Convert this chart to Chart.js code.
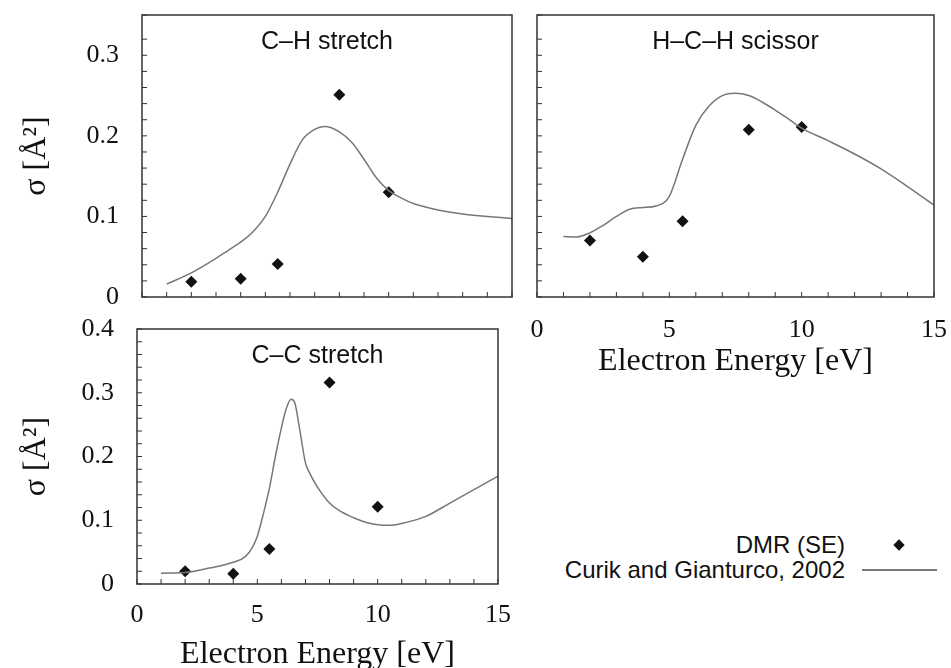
<!DOCTYPE html>
<html>
<head>
<meta charset="utf-8">
<script src="https://cdn.jsdelivr.net/npm/chart.js@4.4.1/dist/chart.umd.min.js"></script>
<style>
html, body { margin: 0; padding: 0; background: #fff; overflow: hidden; }
#wrap { position: relative; width: 951px; height: 668px; overflow: hidden; }
canvas { position: absolute; }
.leg { position: absolute; font: 24px "Liberation Sans", Arial, sans-serif; color: #111; white-space: nowrap; line-height: 24px; }
#legDiamond { position: absolute; width: 8px; height: 8px; background: #111; transform: rotate(45deg); }
#legLine { position: absolute; height: 1.5px; background: #777; }
</style>
</head>
<body>
<div id="wrap">
  <canvas id="chStretch" width="530" height="320" style="left:0;top:0;width:530px;height:320px"></canvas>
  <canvas id="hchScissor" width="431" height="378" style="left:520px;top:0;width:431px;height:378px"></canvas>
  <canvas id="ccStretch" width="530" height="371" style="left:0;top:300px;width:530px;height:371px"></canvas>

  <div class="leg" style="right:106px;top:533px">DMR (SE)</div>
  <div class="leg" style="right:106px;top:558px">Curik and Gianturco, 2002</div>
  <div id="legDiamond" style="left:895px;top:541px"></div>
  <div id="legLine" style="left:862px;top:569px;width:75px"></div>
</div>

<script>
// DMR (SE) points, same energies in every panel
const dmrEnergy = [2, 4, 5.5, 8, 10];
const chStretchDMR = [0.019, 0.0225, 0.041, 0.251, 0.130];
const hchScissorDMR = [0.070, 0.050, 0.094, 0.2075, 0.211];
const ccStretchDMR = [0.020, 0.016, 0.055, 0.316, 0.121];

// Curik and Gianturco, 2002 curves
const chStretchE = [1, 2, 3, 3.5, 4, 4.5, 5, 5.5, 6, 6.5, 7, 7.4, 8, 8.5, 9, 9.5, 10, 10.5, 11, 12, 13, 14, 15];
const chStretchCurve = [0.016, 0.030, 0.048, 0.058, 0.068, 0.081, 0.100, 0.130, 0.165, 0.195, 0.208, 0.2115, 0.205, 0.192, 0.171, 0.148, 0.132, 0.123, 0.116, 0.108, 0.103, 0.100, 0.0975];

const hchScissorE = [1, 1.5, 2, 2.5, 3, 3.5, 4, 4.5, 5, 5.5, 6, 6.5, 7, 7.5, 8, 8.5, 9, 9.5, 10, 11, 12, 13, 14, 15];
const hchScissorCurve = [0.075, 0.0746, 0.0796, 0.089, 0.100, 0.109, 0.111, 0.113, 0.125, 0.171, 0.213, 0.237, 0.250, 0.253, 0.250, 0.242, 0.232, 0.221, 0.2096, 0.194, 0.1775, 0.159, 0.137, 0.114];

const ccStretchE = [1, 2, 3, 4, 4.5, 4.8, 5, 5.25, 5.5, 5.75, 6, 6.2, 6.4, 6.55, 6.75, 7, 7.2, 7.5, 8, 8.5, 9, 9.5, 10, 10.5, 11, 12, 13, 14, 15];
const ccStretchCurve = [0.017, 0.018, 0.025, 0.034, 0.043, 0.058, 0.075, 0.110, 0.150, 0.200, 0.245, 0.275, 0.290, 0.285, 0.245, 0.190, 0.172, 0.152, 0.127, 0.113, 0.104, 0.097, 0.093, 0.092, 0.095, 0.106, 0.127, 0.148, 0.169];

// axis ranges and labels
const energyMin = 0, energyMax = 15;
const xLabelStep = 5;
const yLabelStep = 0.1;
const xTitle = 'Electron Energy [eV]';
const yTitle = 'σ [Å²]';

const serif = '"Liberation Serif", "Times New Roman", serif';
const sans = '"Liberation Sans", Arial, sans-serif';

function toPoints(xs, ys) {
    return xs.map((x, i) => ({ x: x, y: ys[i] }));
}

// frame, inward tick marks and the title written inside the box
const framePlugin = {
    id: 'frame',
    afterDraw(chart) {
        const { ctx, chartArea: a, scales: { x, y } } = chart;
        const opts = chart.options.plugins.frame;
        ctx.save();
        ctx.strokeStyle = '#333';
        ctx.lineWidth = 1.5;
        ctx.strokeRect(a.left, a.top, a.right - a.left, a.bottom - a.top);
        ctx.lineWidth = 1;
        ctx.beginPath();
        x.ticks.forEach(t => {
            const px = x.getPixelForValue(t.value);
            ctx.moveTo(px, a.bottom);
            ctx.lineTo(px, a.bottom - 5);
        });
        y.ticks.forEach(t => {
            const py = y.getPixelForValue(t.value);
            ctx.moveTo(a.left, py);
            ctx.lineTo(a.left + 5, py);
        });
        ctx.stroke();
        ctx.fillStyle = '#111';
        ctx.font = '25px ' + sans;
        ctx.textAlign = 'center';
        ctx.textBaseline = 'middle';
        ctx.fillText(opts.text, (a.left + a.right) / 2, a.top + 27);
        ctx.restore();
    }
};

function isStep(v, step) {
    const r = v / step;
    return Math.abs(r - Math.round(r)) < 1e-6;
}

function makePanel(id, cfg) {
    const ctx = document.getElementById(id).getContext('2d');
    return new Chart(ctx, {
        type: 'scatter',
        data: {
            datasets: [{
                label: 'Curik and Gianturco, 2002',
                data: toPoints(cfg.curveE, cfg.curve),
                showLine: true,
                borderColor: '#777',
                borderWidth: 1.5,
                pointRadius: 0,
                cubicInterpolationMode: 'monotone'
            }, {
                label: 'DMR (SE)',
                data: toPoints(dmrEnergy, cfg.dmr),
                showLine: false,
                pointStyle: 'rectRot',
                pointRadius: 6,
                backgroundColor: '#111',
                borderColor: '#111',
                borderWidth: 0
            }]
        },
        options: {
            responsive: false,
            animation: false,
            layout: { padding: cfg.padding },
            plugins: {
                legend: { display: false },
                tooltip: { enabled: false },
                frame: { text: cfg.title }
            },
            scales: {
                x: {
                    type: 'linear',
                    min: energyMin,
                    max: energyMax,
                    grid: { display: false },
                    border: { display: false },
                    ticks: {
                        stepSize: 1,
                        autoSkip: false,
                        maxRotation: 0,
                        padding: cfg.xTickPad,
                        color: '#111',
                        font: { family: serif, size: 26 },
                        callback: v => (cfg.xLabels && isStep(v, xLabelStep)) ? String(v) : ''
                    },
                    title: {
                        display: cfg.xLabels,
                        text: xTitle,
                        color: '#111',
                        padding: 0,
                        font: { family: serif, size: 32, lineHeight: 1 }
                    },
                    afterFit: s => {
                        s.height = cfg.xHeight;
                        s.paddingLeft = 0;
                        s.paddingRight = 0;
                    }
                },
                y: {
                    type: 'linear',
                    min: 0,
                    max: cfg.yMax,
                    grid: { display: false },
                    border: { display: false },
                    ticks: {
                        stepSize: 0.02,
                        autoSkip: false,
                        padding: 15,
                        color: '#111',
                        font: { family: serif, size: 26 },
                        callback: v => (cfg.yLabels && isStep(v, yLabelStep)) ? (v === 0 ? '0' : v.toFixed(1)) : ''
                    },
                    title: {
                        display: cfg.yLabels,
                        text: yTitle,
                        color: '#111',
                        padding: { top: 21, bottom: 0 },
                        font: { family: serif, size: 32, lineHeight: 1 }
                    },
                    afterFit: s => {
                        s.width = cfg.yWidth;
                        s.paddingTop = 0;
                        s.paddingBottom = 0;
                    }
                }
            }
        },
        plugins: [framePlugin]
    });
}

makePanel('chStretch', {
    title: 'C–H stretch',
    curveE: chStretchE, curve: chStretchCurve, dmr: chStretchDMR,
    yMax: 0.35, xLabels: false, yLabels: true,
    padding: { top: 15, right: 18, left: 0, bottom: 0 },
    yWidth: 142, xHeight: 23, xTickPad: 13
});

makePanel('hchScissor', {
    title: 'H–C–H scissor',
    curveE: hchScissorE, curve: hchScissorCurve, dmr: hchScissorDMR,
    yMax: 0.35, xLabels: true, yLabels: false,
    padding: { top: 15, right: 17, left: 0, bottom: 0 },
    yWidth: 17, xHeight: 81, xTickPad: 10
});

makePanel('ccStretch', {
    title: 'C–C stretch',
    curveE: ccStretchE, curve: ccStretchCurve, dmr: ccStretchDMR,
    yMax: 0.4, xLabels: true, yLabels: true,
    padding: { top: 29, right: 32, left: 0, bottom: 0 },
    yWidth: 137, xHeight: 87, xTickPad: 8
});
</script>
</body>
</html>
